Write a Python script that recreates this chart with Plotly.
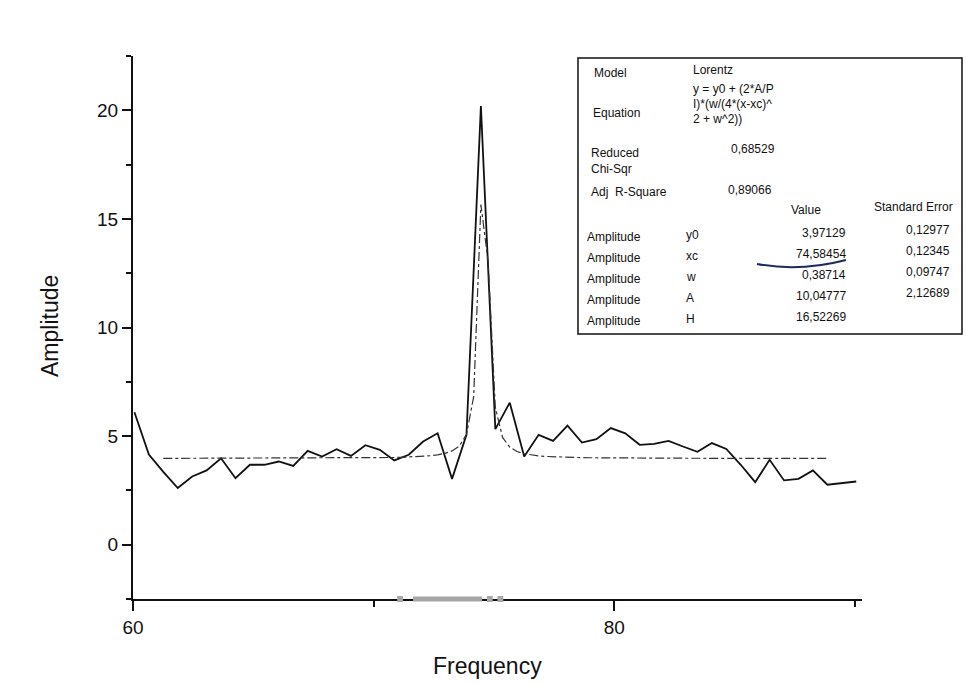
import numpy as np
import plotly.graph_objects as go

# Measured spectrum (Frequency vs Amplitude)
freq = [60.06, 60.66, 61.26, 61.86, 62.46, 63.06, 63.66, 64.26, 64.86, 65.46,
        66.06, 66.66, 67.26, 67.86, 68.46, 69.06, 69.66, 70.26, 70.86, 71.46,
        72.06, 72.66, 73.26, 73.86, 74.46, 75.06, 75.66, 76.26, 76.86, 77.46,
        78.06, 78.66, 79.26, 79.86, 80.46, 81.06, 81.66, 82.26, 82.86, 83.46,
        84.06, 84.66, 85.26, 85.86, 86.46, 87.06, 87.66, 88.26, 88.86, 89.46,
        90.06]
amplitude = [6.10, 4.15, 3.35, 2.61, 3.14, 3.42, 3.98, 3.06, 3.68, 3.68,
             3.83, 3.63, 4.32, 4.06, 4.40, 4.09, 4.58, 4.37, 3.88, 4.14,
             4.75, 5.13, 3.03, 5.06, 20.20, 5.32, 6.54, 4.06, 5.06, 4.78,
             5.48, 4.70, 4.86, 5.37, 5.13, 4.60, 4.64, 4.78, 4.52, 4.28,
             4.68, 4.41, 3.68, 2.88, 3.91, 2.96, 3.03, 3.42, 2.76, 2.85,
             2.91]

# Lorentz fit parameters
y0, xc, w, A = 3.97129, 74.58454, 0.38714, 10.04777
fit_start, fit_end, fit_step = 61.26, 88.86, 0.3

# Fit-report table
param_names = ["y0", "xc", "w", "A", "H"]
param_values = ["3,97129", "74,58454", "0,38714", "10,04777", "16,52269"]
param_errors = ["0,12977", "0,12345", "0,09747", "2,12689", ""]
reduced_chi = "0,68529"
adj_r2 = "0,89066"

# Masked range markers on the frequency axis
mask_bar = [71.64, 74.51]
mask_dots = [71.10, 74.83, 75.27]

fit_x = np.arange(fit_start, fit_end + 1e-6, fit_step)
fit_y = y0 + (2 * A / np.pi) * (w / (4 * (fit_x - xc) ** 2 + w ** 2))

FONT = "Arial, Liberation Sans, sans-serif"
L, R, T, B = 133, 862, 56, 599
W, H = R - L, B - T


def px(x):
    return (x - L) / W


def py(y):
    return (B - y) / H


fig = go.Figure()
fig.add_trace(go.Scatter(x=freq, y=amplitude, mode="lines",
                         line=dict(color="#111111", width=1.8),
                         showlegend=False))
fig.add_trace(go.Scatter(x=fit_x, y=fit_y, mode="lines",
                         line=dict(color="#333333", width=1.2, dash="dashdot"),
                         showlegend=False))

shapes = []
# masked-range bar and dots on the x axis
shapes.append(dict(type="line", xref="x", yref="paper", x0=mask_bar[0], x1=mask_bar[1],
                   y0=0, y1=0, line=dict(color="#a6a6a6", width=5), layer="above"))
for d in mask_dots:
    shapes.append(dict(type="rect", xref="x", yref="paper", x0=d - 0.12, x1=d + 0.12,
                       y0=-3 / H, y1=3 / H, fillcolor="#a6a6a6",
                       line=dict(color="#a6a6a6", width=0), layer="above"))

# table frame
shapes.append(dict(type="rect", xref="paper", yref="paper",
                   x0=px(578), x1=px(962), y0=py(334), y1=py(58),
                   line=dict(color="#111111", width=1.5), fillcolor="white", layer="above"))
# ink underline beneath xc value
shapes.append(dict(type="path", xref="paper", yref="paper",
                   path=f"M {px(757)} {py(264)} Q {px(800)} {py(272)} {px(846)} {py(260)}",
                   line=dict(color="#1c2b5c", width=2), layer="above"))

ann = []


def txt(s, x, y, anchor="left", size=12):
    ann.append(dict(text=s, xref="paper", yref="paper", x=px(x), y=py(y),
                    xanchor=anchor, yanchor="middle", showarrow=False,
                    font=dict(family=FONT, size=size, color="#111111")))


txt("Model", 592, 73)
txt("Lorentz", 691, 70)
txt("y = y0 + (2*A/P", 691, 89)
txt("I)*(w/(4*(x-xc)^", 691, 104)
txt("2 + w^2))", 691, 119)
txt("Equation", 591, 113)
txt("Reduced", 589, 153)
txt("Chi-Sqr", 589, 169)
txt(reduced_chi, 729, 149)
txt("Adj  R-Square", 589, 192)
txt(adj_r2, 726, 190)
txt("Value", 806, 210, anchor="center")
txt("Standard Error", 955, 207, anchor="right")
row_y = [235, 256, 277, 298, 319]
for yy, n, v, e in zip(row_y, param_names, param_values, param_errors):
    txt("Amplitude", 585, yy + 2)
    txt(n, 684, yy)
    txt(v, 848, yy - 2, anchor="right")
    if e:
        txt(e, 952, yy - 5, anchor="right")

# axis titles
ann.append(dict(text="Frequency", xref="paper", yref="paper", x=px(487), y=py(666),
                xanchor="center", yanchor="middle", showarrow=False,
                font=dict(family=FONT, size=23, color="#111111")))
ann.append(dict(text="Amplitude", xref="paper", yref="paper", x=px(50), y=py(326),
                xanchor="center", yanchor="middle", showarrow=False, textangle=-90,
                font=dict(family=FONT, size=23, color="#111111")))

fig.update_layout(
    width=966, height=684,
    margin=dict(l=L, r=966 - R, t=T, b=684 - B),
    paper_bgcolor="white", plot_bgcolor="white",
    font=dict(family=FONT, color="#111111"),
    shapes=shapes, annotations=ann, showlegend=False,
)
fig.update_xaxes(range=[60, 90.3], tick0=60, dtick=20, ticks="outside", ticklen=10,
                 tickwidth=1.5, tickcolor="#111111", showline=True, linewidth=2,
                 linecolor="#111111", showgrid=False, zeroline=False,
                 tickfont=dict(size=19, family=FONT, color="#111111"),
                 minor=dict(dtick=10, tick0=60, ticks="outside", ticklen=6,
                            tickwidth=1.5, tickcolor="#111111", showgrid=False))
fig.update_yaxes(range=[-2.5, 22.5], tick0=0, dtick=5, ticks="outside", ticklen=9,
                 tickwidth=1.5, tickcolor="#111111", showline=True, linewidth=2,
                 linecolor="#111111", showgrid=False, zeroline=False,
                 tickfont=dict(size=19, family=FONT, color="#111111"),
                 minor=dict(dtick=2.5, tick0=0, ticks="outside", ticklen=5,
                            tickwidth=1.5, tickcolor="#111111", showgrid=False))

fig.write_html("out.html")
